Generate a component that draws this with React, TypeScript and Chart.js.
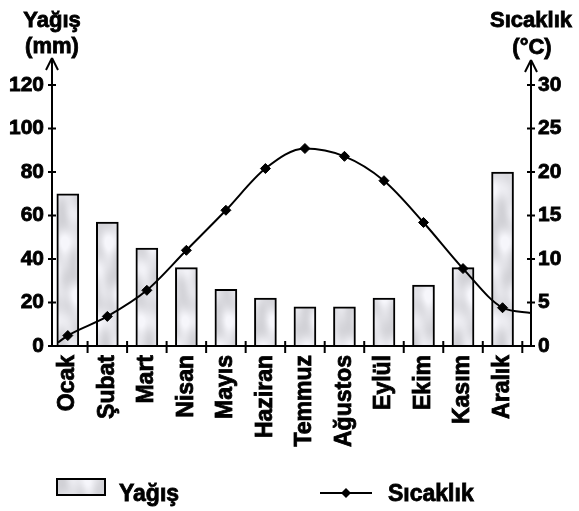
import React, { useEffect, useRef } from 'react';
import { Chart, registerables } from 'chart.js';

Chart.register(...registerables);

const months = ['Ocak', 'Şubat', 'Mart', 'Nisan', 'Mayıs', 'Haziran', 'Temmuz', 'Ağustos', 'Eylül', 'Ekim', 'Kasım', 'Aralık'];
const precipitation = [70, 57, 45, 36, 26, 22, 18, 18, 22, 28, 36, 80];
const temperature = [1.2, 3.4, 6.4, 11.0, 15.6, 20.4, 22.7, 21.8, 19.0, 14.2, 8.9, 4.4];
const curveStartX = -0.25;
const curveStartTemp = 0.4;
const curveEndX = 11.72;
const curveEndTemp = 3.8;
const precipTicks = [0, 20, 40, 60, 80, 100, 120];
const tempTicks = [0, 5, 10, 15, 20, 25, 30];
const leftTitle = ['Yağış', '(mm)'];
const rightTitle = ['Sıcaklık', '(°C)'];
const legendLabels = ['Yağış', 'Sıcaklık'];

const FONT = "'Liberation Sans', Arial, sans-serif";

function makePattern(): CanvasPattern | string {
  const W = 44;
  const H = 132;
  const c = document.createElement('canvas');
  c.width = W;
  c.height = H;
  const g = c.getContext('2d');
  if (!g) return '#e4e4e8';
  const img = g.createImageData(W, H);
  const T = Math.PI * 2;
  for (let y = 0; y < H; y++) {
    for (let x = 0; x < W; x++) {
      const u = x / W;
      const w = y / H;
      let v =
        226 +
        9 * Math.sin(T * (u + 2 * w) + 0.4) +
        7 * Math.sin(T * (u - 3 * w) + 1.7) +
        6 * Math.sin(T * (2 * u + w) + 2.9) +
        4 * Math.sin(T * (0 * u + 5 * w) + 0.9) +
        3 * Math.sin(T * (3 * u - 2 * w) + 4.1);
      v = Math.max(188, Math.min(246, v));
      const i = (y * W + x) * 4;
      img.data[i] = v;
      img.data[i + 1] = v;
      img.data[i + 2] = Math.min(255, v + 5);
      img.data[i + 3] = 255;
    }
  }
  g.putImageData(img, 0, 0);
  const p = g.createPattern(c, 'repeat');
  return p || '#e4e4e8';
}

export default function App() {
  const ref = useRef<HTMLCanvasElement | null>(null);

  useEffect(() => {
    const canvas = ref.current;
    if (!canvas) return;
    const pattern = makePattern();

    const decor = {
      id: 'decor',
      afterDraw(chart: any) {
        const ctx = chart.ctx as CanvasRenderingContext2D;
        const { left, right, bottom } = chart.chartArea;
        const yL = chart.scales.yL;
        const yR = chart.scales.yR;
        const xs = chart.scales.x;
        ctx.save();
        ctx.strokeStyle = '#000';
        ctx.fillStyle = '#000';
        ctx.lineWidth = 2;
        const seg = (x1: number, y1: number, x2: number, y2: number) => {
          ctx.beginPath();
          ctx.moveTo(x1, y1);
          ctx.lineTo(x2, y2);
          ctx.stroke();
        };
        const txt = (s: string, x: number, y: number) => {
          ctx.fillText(s, x, y);
          ctx.lineWidth = 0.8;
          ctx.strokeText(s, x, y);
          ctx.lineWidth = 2;
        };
        // axes
        seg(left, bottom, left, 58);
        seg(left - 6, 70, left, 58);
        seg(left + 6, 70, left, 58);
        seg(right, bottom, right, 60);
        seg(right - 6, 72, right, 60);
        seg(right + 6, 72, right, 60);
        seg(left - 4, bottom, right + 4, bottom);
        for (const v of precipTicks) {
          const py = yL.getPixelForValue(v);
          seg(left - 4, py, left + 4, py);
        }
        for (const v of tempTicks) {
          const py = yR.getPixelForValue(v);
          seg(right - 4, py, right + 4, py);
        }
        for (let i = 0; i < months.length; i++) {
          const px = xs.getPixelForValue(i + 0.5);
          seg(px, bottom - 5, px, bottom + 7);
        }
        // titles
        ctx.font = `bold 22px ${FONT}`;
        ctx.textAlign = 'center';
        ctx.textBaseline = 'alphabetic';
        txt(leftTitle[0], left, 27);
        txt(leftTitle[1], left, 53);
        txt(rightTitle[0], right, 27);
        txt(rightTitle[1], right + 1, 54);
        // legend
        ctx.fillStyle = pattern as any;
        ctx.fillRect(57, 479, 48, 16);
        ctx.strokeRect(57, 479, 48, 16);
        ctx.fillStyle = '#000';
        ctx.font = `bold 23px ${FONT}`;
        ctx.textAlign = 'left';
        txt(legendLabels[0], 119, 501);
        seg(320, 493, 372, 493);
        ctx.beginPath();
        ctx.moveTo(346, 488);
        ctx.lineTo(351, 493);
        ctx.lineTo(346, 498);
        ctx.lineTo(341, 493);
        ctx.closePath();
        ctx.fill();
        txt(legendLabels[1], 388, 501);
        ctx.restore();
      },
    };

    const lineData = [
      { x: curveStartX, y: curveStartTemp },
      ...temperature.map((t, i) => ({ x: i, y: t })),
      { x: curveEndX, y: curveEndTemp },
    ];
    const radii = [0, ...temperature.map(() => 5), 0];

    const tickFont = { family: FONT, size: 21, weight: 'bold' as const };

    const chart = new Chart(canvas, {
      type: 'bar',
      data: {
        datasets: [
          {
            type: 'line',
            label: legendLabels[1],
            yAxisID: 'yR',
            xAxisID: 'x',
            data: lineData,
            borderColor: '#000',
            borderWidth: 2,
            pointStyle: 'rectRot',
            pointRadius: radii,
            pointBackgroundColor: '#000',
            pointBorderColor: '#000',
            pointBorderWidth: 1,
            cubicInterpolationMode: 'monotone',
            fill: false,
            order: 0,
            clip: false as any,
          } as any,
          {
            type: 'bar',
            label: legendLabels[0],
            yAxisID: 'yL',
            xAxisID: 'x',
            data: precipitation.map((v, i) => ({ x: i, y: v })),
            backgroundColor: pattern as any,
            borderColor: '#000',
            borderWidth: 2,
            barThickness: 22,
            order: 1,
          } as any,
        ],
      },
      options: {
        animation: false,
        responsive: false,
        maintainAspectRatio: false,
        devicePixelRatio: 1,
        layout: { padding: { top: 85, left: 0, right: 0, bottom: 0 } },
        plugins: {
          legend: { display: false },
          tooltip: { enabled: false },
          title: { display: false },
        },
        scales: {
          x: {
            type: 'linear',
            min: -0.4,
            max: 11.72,
            offset: false,
            grid: { display: false, drawTicks: false },
            border: { display: false },
            ticks: {
              stepSize: 1,
              autoSkip: false,
              includeBounds: false,
              minRotation: 90,
              maxRotation: 90,
              padding: 9,
              color: '#000',
              textStrokeColor: '#000',
              textStrokeWidth: 0.8,
              font: { family: FONT, size: 23, weight: 'bold' },
              callback: (v: any) => (Number.isInteger(v) && months[v] ? months[v] : ''),
            },
            afterFit: (s: any) => {
              s.height = 165;
            },
          },
          yL: {
            type: 'linear',
            position: 'left',
            min: 0,
            max: 120,
            grid: { display: false, drawTicks: false },
            border: { display: false },
            ticks: { stepSize: 20, color: '#000', textStrokeColor: '#000', textStrokeWidth: 0.8, padding: 8, font: tickFont },
            afterFit: (s: any) => {
              s.width = 52;
            },
          },
          yR: {
            type: 'linear',
            position: 'right',
            min: 0,
            max: 30,
            grid: { display: false, drawTicks: false },
            border: { display: false },
            ticks: { stepSize: 5, color: '#000', textStrokeColor: '#000', textStrokeWidth: 0.8, padding: 7, font: tickFont },
            afterFit: (s: any) => {
              s.width = 48;
            },
          },
        },
      } as any,
      plugins: [decor],
    });

    return () => {
      chart.destroy();
    };
  }, []);

  return (
    <div style={{ position: 'fixed', left: 0, top: 0, width: 579, height: 511, background: '#fff' }}>
      <canvas ref={ref} width={579} height={511} style={{ width: 579, height: 511, display: 'block' }} />
    </div>
  );
}
